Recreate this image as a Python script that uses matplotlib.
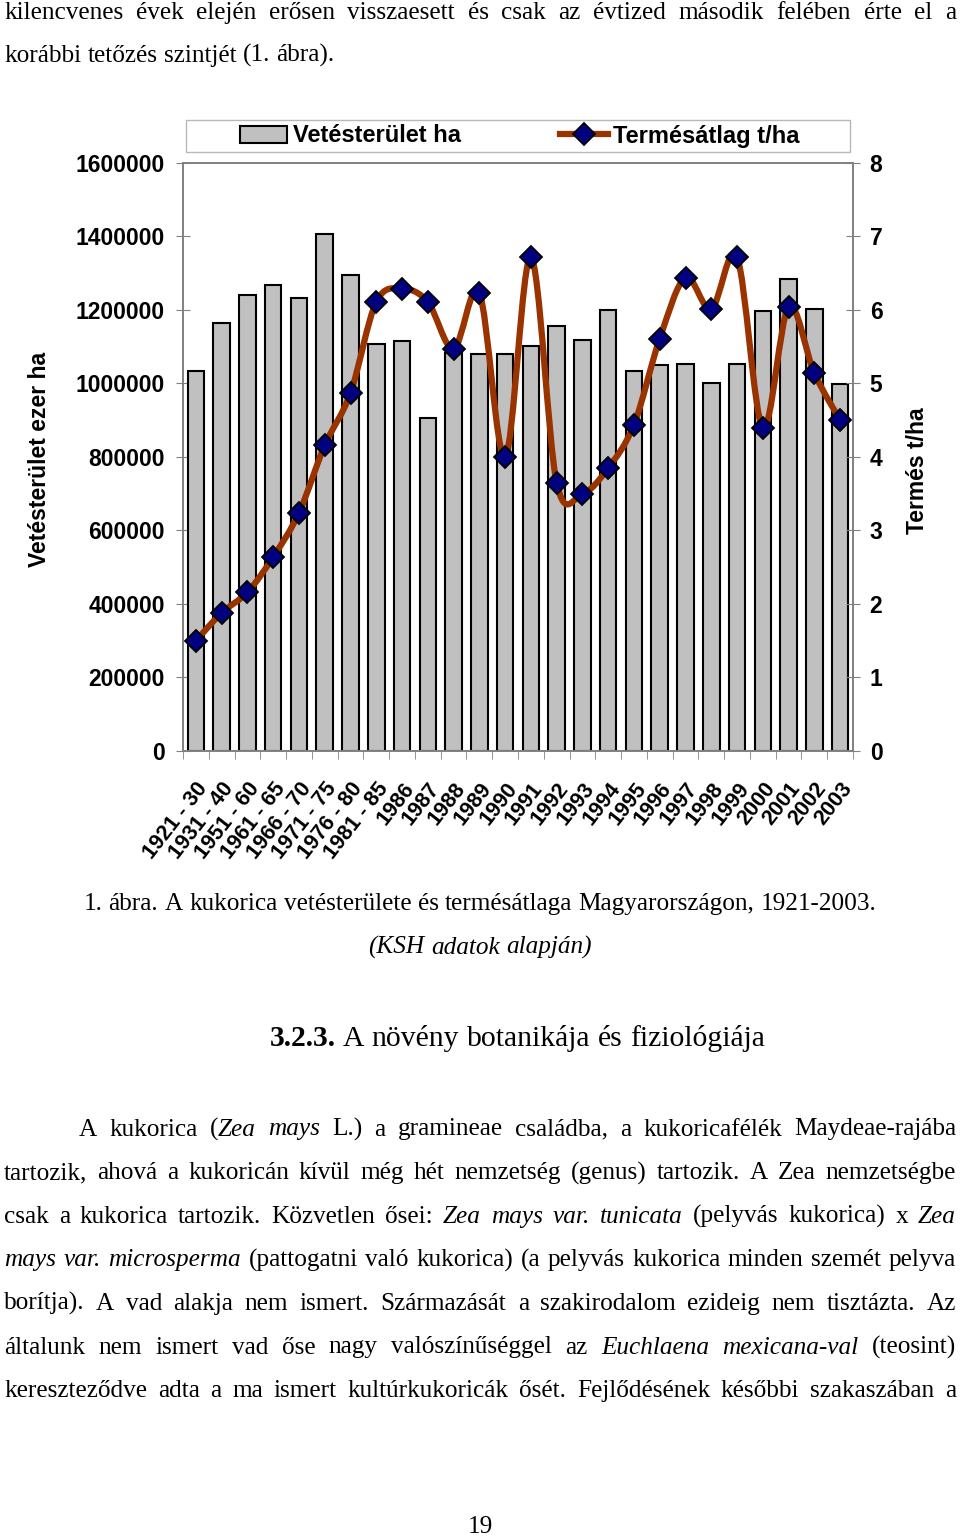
import matplotlib
matplotlib.use('Agg')
import matplotlib.pyplot as plt
from matplotlib.path import Path
from matplotlib.patches import PathPatch, Rectangle, Patch
from matplotlib.lines import Line2D
from matplotlib.ticker import FuncFormatter
import numpy as np

# chart data
periods = ['1921 - 30', '1931 - 40', '1951 - 60', '1961 - 65', '1966 - 70',
           '1971 - 75', '1976 - 80', '1981 - 85', '1986', '1987', '1988',
           '1989', '1990', '1991', '1992', '1993', '1994', '1995', '1996',
           '1997', '1998', '1999', '2000', '2001', '2002', '2003']
area_ha = [1033000, 1164000, 1241000, 1267000, 1232000, 1406000, 1295000,
           1108000, 1115000, 907000, 1082000, 1079000, 1079000, 1102000,
           1156000, 1118000, 1201000, 1035000, 1050000, 1054000, 1001000,
           1052000, 1197000, 1283000, 1202000, 998000]
yield_tha = [1.50, 1.88, 2.16, 2.64, 3.24, 4.16, 4.87, 6.11, 6.29, 6.11,
             5.47, 6.23, 4.00, 6.72, 3.65, 3.50, 3.85, 4.44, 5.61, 6.44,
             6.01, 6.72, 4.40, 6.04, 5.14, 4.50]
left_ticks = [0, 200000, 400000, 600000, 800000, 1000000, 1200000, 1400000, 1600000]
right_ticks = [0, 1, 2, 3, 4, 5, 6, 7, 8]

# page text ('*' toggles italic, '#' toggles bold)
top_lines = ['kilencvenes évek elején erősen visszaesett és csak az évtized második felében érte el a',
             'korábbi tetőzés szintjét (1. ábra).']
caption = '1. ábra. A kukorica vetésterülete és termésátlaga Magyarországon, 1921-2003.'
source = '*(KSH adatok alapján)*'
heading = '#3.2.3.# A növény botanikája és fiziológiája'
para_lines = ['A kukorica (*Zea mays* L.) a gramineae családba, a kukoricafélék Maydeae-rajába',
              'tartozik, ahová a kukoricán kívül még hét nemzetség (genus) tartozik. A Zea nemzetségbe',
              'csak a kukorica tartozik. Közvetlen ősei: *Zea mays var. tunicata* (pelyvás kukorica) x *Zea*',
              '*mays var. microsperma* (pattogatni való kukorica) (a pelyvás kukorica minden szemét pelyva',
              'borítja). A vad alakja nem ismert. Származását a szakirodalom ezideig nem tisztázta. Az',
              'általunk nem ismert vad őse nagy valószínűséggel az *Euchlaena mexicana-val* (teosint)',
              'kereszteződve adta a ma ismert kultúrkukoricák ősét. Fejlődésének későbbi szakaszában a']
page_no = '19'

W, H = 960, 1537
fig = plt.figure(figsize=(9.6, 15.37), dpi=100)
plt.rcParams['font.family'] = ['Liberation Sans', 'DejaVu Sans']


def fx(px):
    return px / W


def fy(py):
    return 1 - py / H


# chart
ax = fig.add_axes([fx(183), fy(751), fx(853) - fx(183), (751 - 163) / H])
x = np.arange(len(periods))
ax.bar(x, area_ha, width=0.64, color='#c0c0c0', edgecolor='black', linewidth=1.5, zorder=2)
ax.set_xlim(-0.5, len(periods) - 0.5)
ax.set_ylim(0, 1600000)
ax.set_yticks(left_ticks)
ax.yaxis.set_major_formatter(FuncFormatter(lambda v, p: f'{int(v)}'))
ax.set_xticks(x)
ax.set_xticklabels(periods, rotation=52, ha='right', va='top', rotation_mode='anchor',
                   fontsize=15.5, fontweight='bold')
ax.set_xticks(np.arange(-0.5, len(periods), 1), minor=True)
ax.tick_params(axis='x', which='major', length=0, pad=20)
ax.tick_params(axis='x', which='minor', length=6, direction='out', color='#808080')
ax.tick_params(axis='y', direction='inout', length=10, color='#808080', pad=8, labelsize=16.5)
for lab in ax.get_yticklabels():
    lab.set_fontweight('bold')
for s in ax.spines.values():
    s.set_color('#808080')
    s.set_linewidth(1.2)
ax.set_ylabel('Vetésterület ezer ha', fontsize=16.5, fontweight='bold')
ax.yaxis.set_label_coords((40 - 183) / 670, (751 - 459) / 588)
ax.yaxis.label.set_va('center')

ax2 = ax.twinx()
ax2.set_ylim(0, 8)
ax2.set_yticks(right_ticks)
ax2.tick_params(axis='y', direction='inout', length=10, color='#808080', pad=7, labelsize=16.5)
for lab in ax2.get_yticklabels():
    lab.set_fontweight('bold')
for s in ax2.spines.values():
    s.set_color('#808080')
    s.set_linewidth(1.2)
ax2.set_ylabel('Termés t/ha', fontsize=16.5, fontweight='bold')
ax2.yaxis.set_label_coords((917 - 183) / 670, (751 - 471) / 588)
ax2.yaxis.label.set_va('center')

# smoothed line (Catmull-Rom style bezier like the spreadsheet)
pts = np.column_stack([x, yield_tha])
n = len(pts)
verts = [pts[0]]
codes = [Path.MOVETO]
for i in range(n - 1):
    p0 = pts[max(i - 1, 0)]
    p1 = pts[i]
    p2 = pts[i + 1]
    p3 = pts[min(i + 2, n - 1)]
    verts += [p1 + (p2 - p0) / 6, p2 - (p3 - p1) / 6, p2]
    codes += [Path.CURVE4] * 3
ax2.add_patch(PathPatch(Path(verts, codes), facecolor='none', edgecolor='#993300',
                        lw=4.5, zorder=3, joinstyle='round', capstyle='round'))
ax2.plot(x, yield_tha, linestyle='none', marker='D', ms=11, mfc='#000080', mec='black',
         mew=1.3, zorder=4)

# legend
handles = [Patch(facecolor='#c0c0c0', edgecolor='black', lw=1.5),
           Line2D([], [], color='#993300', lw=4.5, marker='D', ms=11, mfc='#000080',
                  mec='black', mew=1.3)]
fig.legend(handles, ['Vetésterület ha', 'Termésátlag t/ha'], loc='center',
           bbox_to_anchor=(fx(520), fy(136)), ncol=2, frameon=False,
           prop=dict(weight='bold', size=17), handlelength=2.0, handletextpad=0.25,
           columnspacing=4.2)
fig.patches.append(Rectangle((fx(186), fy(152)), fx(850) - fx(186), (152 - 120) / H,
                             transform=fig.transFigure, fill=False, edgecolor='#b8b8b8', lw=1))

# page text
renderer = fig.canvas.get_renderer()


def parse(line):
    words = []
    italic = False
    bold = False
    for w in line.split(' '):
        runs = []
        buf = ''
        for ch in w:
            if ch == '*' or ch == '#':
                if buf:
                    runs.append((buf, italic, bold))
                buf = ''
                if ch == '*':
                    italic = not italic
                else:
                    bold = not bold
            else:
                buf += ch
        if buf:
            runs.append((buf, italic, bold))
        words.append(runs)
    return words


def put_line(line, y, x0, x1=None, size=18.2, mode='justify', center=None):
    words = parse(line)
    objs = []
    widths = []
    for runs in words:
        wobjs = []
        ww = 0
        for txt, it, bd in runs:
            t = fig.text(0, fy(y), txt, fontsize=size, family='Liberation Serif',
                         style='italic' if it else 'normal',
                         weight='bold' if bd else 'normal', va='baseline', ha='left')
            w = t.get_window_extent(renderer).width
            wobjs.append((t, w))
            ww += w
        objs.append(wobjs)
        widths.append(ww)
    space = 0.25 * size * 100 / 72
    if mode == 'justify':
        gap = (x1 - x0 - sum(widths)) / (len(words) - 1)
    else:
        gap = space
    if mode == 'center':
        total = sum(widths) + gap * (len(words) - 1)
        x0 = center - total / 2
    xx = x0
    for wobjs, ww in zip(objs, widths):
        cx = xx
        for t, w in wobjs:
            t.set_x(fx(cx))
            cx += w
        xx += ww + gap


put_line(top_lines[0], 19, 4, 956)
put_line(top_lines[1], 62, 4, mode='left')
put_line(caption, 910, 0, mode='center', center=480)
put_line(source, 954, 0, mode='center', center=480)
put_line(heading, 1046, 0, size=21.3, mode='center', center=517)
for i, line in enumerate(para_lines):
    put_line(line, 1135.5 + i * 43.6, 79 if i == 0 else 4, 956)
put_line(page_no, 1533, 0, mode='center', center=480)

fig.savefig('out.png', dpi=100)
